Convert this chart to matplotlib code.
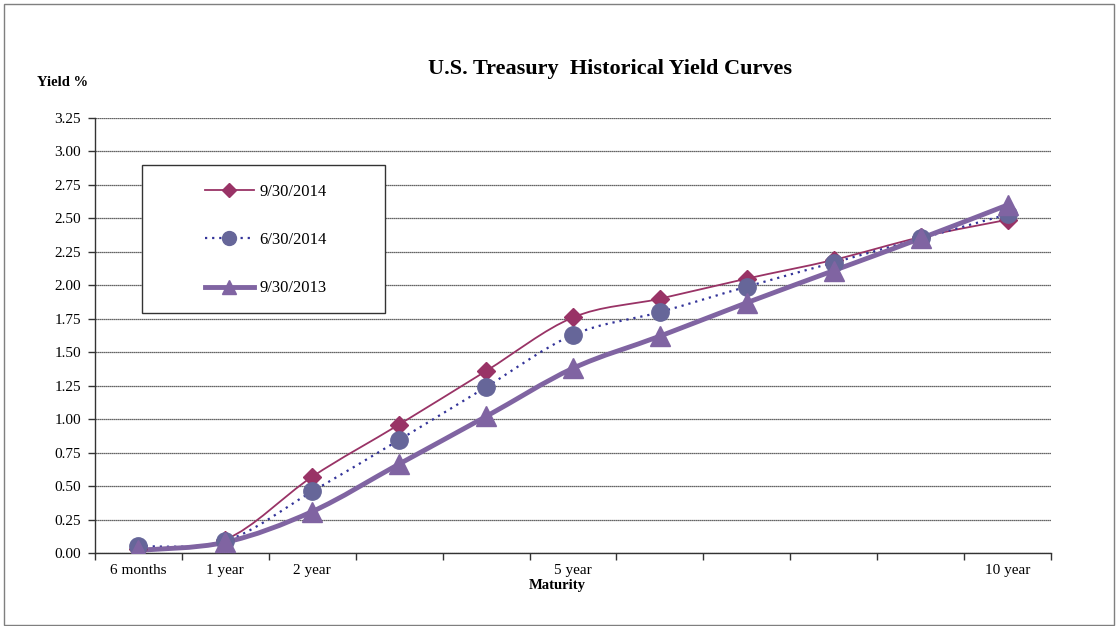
import numpy as np
import matplotlib
matplotlib.use("Agg")
import matplotlib.pyplot as plt
from matplotlib.path import Path
from matplotlib.patches import PathPatch, Rectangle
from matplotlib.lines import Line2D

maturities = ["6 months", "1 year", "2 year", "3 year", "4 year", "5 year",
              "6 year", "7 year", "8 year", "9 year", "10 year"]
tick_labels = ["6 months", "1 year", "2 year", "", "", "5 year", "", "", "", "", "10 year"]
y_sep2014 = [0.03, 0.10, 0.57, 0.96, 1.36, 1.76, 1.90, 2.05, 2.19, 2.36, 2.49]
y_jun2014 = [0.05, 0.09, 0.46, 0.845, 1.24, 1.63, 1.80, 1.99, 2.17, 2.35, 2.53]
y_sep2013 = [0.02, 0.08, 0.31, 0.665, 1.02, 1.38, 1.62, 1.87, 2.11, 2.35, 2.60]
series_names = ["9/30/2014", "6/30/2014", "9/30/2013"]

plt.rcParams['font.family'] = ['Liberation Serif', 'DejaVu Serif']

fig = plt.figure(figsize=(11.16, 6.26), dpi=100)
W, H = 1116, 626
fig.add_artist(Rectangle((4 / W, 1 / H), 1110 / W, 621 / H, transform=fig.transFigure,
                         fill=False, edgecolor="#7f7f7f", linewidth=1.0))
ax = fig.add_axes([95 / W, 1 - 553 / H, (1051 - 95) / W, (553 - 118) / H])

x = np.arange(len(maturities))


def smooth_path(xs, ys):
    pts = np.column_stack([xs, ys]).astype(float)
    n = len(pts)
    verts = [pts[0]]
    codes = [Path.MOVETO]
    for i in range(n - 1):
        p0 = pts[i - 1] if i > 0 else pts[i]
        p1 = pts[i]
        p2 = pts[i + 1]
        p3 = pts[i + 2] if i + 2 < n else pts[i + 1]
        c1 = p1 + (p2 - p0) / 6.0
        c2 = p2 - (p3 - p1) / 6.0
        verts += [c1, c2, p2]
        codes += [Path.CURVE4] * 3
    return Path(verts, codes)


styles = [
    dict(data=y_sep2014, color="#993366", lw=1.3, ls="-", marker="D", mc="#993366", ms=9.5, lms=7),
    dict(data=y_jun2014, color="#333399", lw=1.6, ls=(0, (1, 2.2)), marker="o", mc="#666699", ms=12.5, lms=10),
    dict(data=y_sep2013, color="#8064A2", lw=3.5, ls="-", marker="^", mc="#8064A2", ms=15, lms=10),
]

handles = []
for s, name in zip(styles, series_names):
    p = smooth_path(x, s["data"])
    patch = PathPatch(p, facecolor="none", edgecolor=s["color"], linewidth=s["lw"],
                      linestyle=s["ls"], transform=ax.transData, zorder=3, capstyle="butt")
    ax.add_patch(patch)
    ax.plot(x, s["data"], linestyle="none", marker=s["marker"], markersize=s["ms"],
            markerfacecolor=s["mc"], markeredgecolor=s["mc"], zorder=4)
    handles.append(Line2D([0], [0], color=s["color"], lw=s["lw"], ls=s["ls"],
                          marker=s["marker"], markersize=s["lms"],
                          markerfacecolor=s["mc"], markeredgecolor=s["mc"]))

ax.set_xlim(-0.5, len(maturities) - 0.5)
ax.set_ylim(0, 3.25)
yt = np.arange(0, 3.26, 0.25)
ax.set_yticks(yt)
ax.set_yticklabels([f"{v:.2f}" for v in yt], fontsize=11)
ax.set_xticks(x)
ax.set_xticklabels(tick_labels, fontsize=11)
ax.set_xticks(np.arange(-0.5, len(maturities), 1.0), minor=True)
ax.tick_params(axis="x", which="major", length=0, pad=8)
ax.tick_params(axis="x", which="minor", length=5, direction="out", width=1, color="#333333")
ax.tick_params(axis="y", which="major", length=5, direction="out", width=1, color="#333333", pad=5)
ax.grid(axis="y", which="major", linestyle=(0, (1, 0.6)), color="#333333", linewidth=0.9, zorder=0)
for sp in ["top", "right"]:
    ax.spines[sp].set_visible(False)
for sp in ["left", "bottom"]:
    ax.spines[sp].set_color("#333333")
    ax.spines[sp].set_linewidth(1.0)
ax.set_axisbelow(True)

fig.text(610 / W, 1 - 69 / H, "U.S. Treasury  Historical Yield Curves", ha="center", va="center",
         fontsize=16, fontweight="bold")
fig.text(37 / W, 1 - 83 / H, "Yield %", ha="left", va="center", fontsize=10.5, fontweight="bold")
fig.text(557 / W, 1 - 585 / H, "Maturity", ha="center", va="center", fontsize=10.5, fontweight="bold")

# legend frame
fig.add_artist(Rectangle((142 / W, 1 - 313 / H), (385 - 142) / W, (313 - 165) / H,
                         transform=fig.transFigure, facecolor="white", edgecolor="#333333",
                         linewidth=1.0, zorder=5))
leg = fig.legend(handles, series_names, loc="center",
                 bbox_to_anchor=(266 / W, 1 - 240 / H),
                 fontsize=12, frameon=False, labelspacing=1.95,
                 handlelength=2.9, handletextpad=0.35, borderpad=0)
leg.set_zorder(6)

fig.savefig("out.png", dpi=100)
